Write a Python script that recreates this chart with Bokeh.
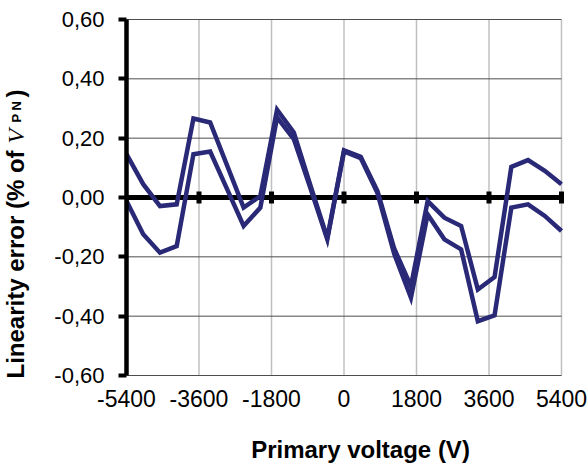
import math
from bokeh.plotting import figure
from bokeh.models import Range1d, FixedTicker, CustomJSTickFormatter, Label, LinearAxis
from bokeh.embed import file_html
from bokeh.resources import INLINE

# ---- data ----
voltage = [-5400, -4985, -4569, -4154, -3738, -3323, -2908, -2492, -2077,
           -1662, -1246, -831, -415, 0, 415, 831, 1246, 1662, 2077,
           2492, 2908, 3323, 3738, 4154, 4569, 4985, 5400]
error_upper = [0.146, 0.045, -0.029, -0.023, 0.266, 0.253, 0.110, -0.034, 0.005,
               0.296, 0.219, 0.040, -0.136, 0.159, 0.137, 0.022, -0.172, -0.299, -0.012,
               -0.068, -0.096, -0.310, -0.268, 0.103, 0.126, 0.090, 0.045]
error_lower = [-0.012, -0.124, -0.186, -0.164, 0.146, 0.155, 0.030, -0.096, -0.034,
               0.270, 0.197, 0.030, -0.141, 0.155, 0.133, 0.015, -0.190, -0.338, -0.057,
               -0.141, -0.175, -0.417, -0.397, -0.034, -0.023, -0.062, -0.113]
x_ticks = [-5400, -3600, -1800, 0, 1800, 3600, 5400]
y_ticks = [-0.6, -0.4, -0.2, 0.0, 0.2, 0.4, 0.6]
x_title = "Primary voltage (V)"
y_title_parts = ["Linearity error (% of ", "V", "P N", ")"]

NAVY = "#292977"
FONT = "Liberation Sans"

# ---- layout (pixel positions of the plotting area inside the canvas) ----
W, H = 588, 468
PL, PR, PT, PB = 126, 561, 19, 375
XMIN, XMAX = x_ticks[0], x_ticks[-1]
YMIN, YMAX = y_ticks[0], y_ticks[-1]
kx = (XMAX - XMIN) / (PR - PL)
ky = (YMAX - YMIN) / (PB - PT)

p = figure(width=W, height=H,
           x_range=Range1d(XMIN - PL * kx, XMAX + (W - PR) * kx),
           y_range=Range1d(YMIN - (H - PB) * ky, YMAX + PT * ky),
           output_backend="svg", toolbar_location=None,
           x_axis_location=None, y_axis_location=None,
           min_border_left=0, min_border_right=0, min_border_top=0, min_border_bottom=0)
p.outline_line_color = None
p.background_fill_color = "white"
p.border_fill_color = "white"
p.xgrid.visible = False
p.ygrid.visible = False


def dx(px):
    return XMIN + (px - PL) * kx


def dy(py):
    return YMAX - (py - PT) * ky


# grid lines drawn from the tick values
p.segment(x0=x_ticks[1:], y0=[YMIN] * (len(x_ticks) - 1), x1=x_ticks[1:], y1=[YMAX] * (len(x_ticks) - 1),
          line_color="#c0c0c0", line_width=1.5)
p.segment(x0=[XMIN] * len(y_ticks), y0=y_ticks, x1=[XMAX] * len(y_ticks), y1=y_ticks,
          line_color="#4d4d4d", line_width=1)

# zero line with tick marks
p.segment(x0=[XMIN], y0=[0], x1=[XMAX], y1=[0], line_color="black", line_width=5)
p.rect(x=x_ticks[1:], y=[0] * (len(x_ticks) - 1), width=5, height=12,
       width_units="screen", height_units="screen", fill_color="black", line_color=None)

# series
p.line(voltage, error_upper, line_color=NAVY, line_width=4.5, line_join="miter")
p.line(voltage, error_lower, line_color=NAVY, line_width=4.5, line_join="miter")

# x axis: labels only, below the plotting area
xa = LinearAxis(fixed_location=YMIN, bounds=(XMIN, XMAX))
xa.ticker = FixedTicker(ticks=x_ticks)
xa.formatter = CustomJSTickFormatter(code="return tick.toFixed(0);")
xa.axis_line_color = None
xa.major_tick_line_color = None
xa.minor_tick_line_color = None
xa.major_tick_in = 0
xa.major_tick_out = 0
xa.major_label_standoff = 14
xa.major_label_text_font = FONT
xa.major_label_text_font_size = "23px"
xa.major_label_text_color = "black"
p.add_layout(xa, "below")

# y axis at the left edge of the plotting area
ya = LinearAxis(fixed_location=XMIN, bounds=(YMIN, YMAX))
ya.ticker = FixedTicker(ticks=y_ticks)
ya.formatter = CustomJSTickFormatter(code="return tick.toFixed(2).replace('.', ',');")
ya.axis_line_color = "black"
ya.axis_line_width = 4.5
ya.major_tick_line_color = "black"
ya.major_tick_line_width = 4
ya.major_tick_in = 0
ya.major_tick_out = 8
ya.minor_tick_line_color = None
ya.major_label_standoff = 14
ya.major_label_text_font = FONT
ya.major_label_text_font_size = "22px"
ya.major_label_text_color = "black"
p.add_layout(ya, "left")

# x title
p.add_layout(Label(x=dx(360), y=dy(449), text=x_title, text_align="center",
                   text_baseline="alphabetic", text_font=FONT, text_font_size="24px",
                   text_font_style="bold", text_color="black"))

# y title (pieces)
rot = math.pi / 2


def ylab(px, py, text, font, size, style):
    p.add_layout(Label(x=dx(px), y=dy(py), text=text, angle=rot,
                       text_align="left", text_baseline="alphabetic", text_font=font,
                       text_font_size=size, text_font_style=style, text_color="black"))


ylab(15, 378, y_title_parts[0], FONT, "24px", "bold")
ylab(15, 143, y_title_parts[1], "Liberation Serif", "24px", "italic")
ylab(16, 122, y_title_parts[2], FONT, "13px", "bold")
ylab(15, 97, y_title_parts[3], FONT, "24px", "bold")

open("out.html", "w").write(file_html(p, INLINE))
